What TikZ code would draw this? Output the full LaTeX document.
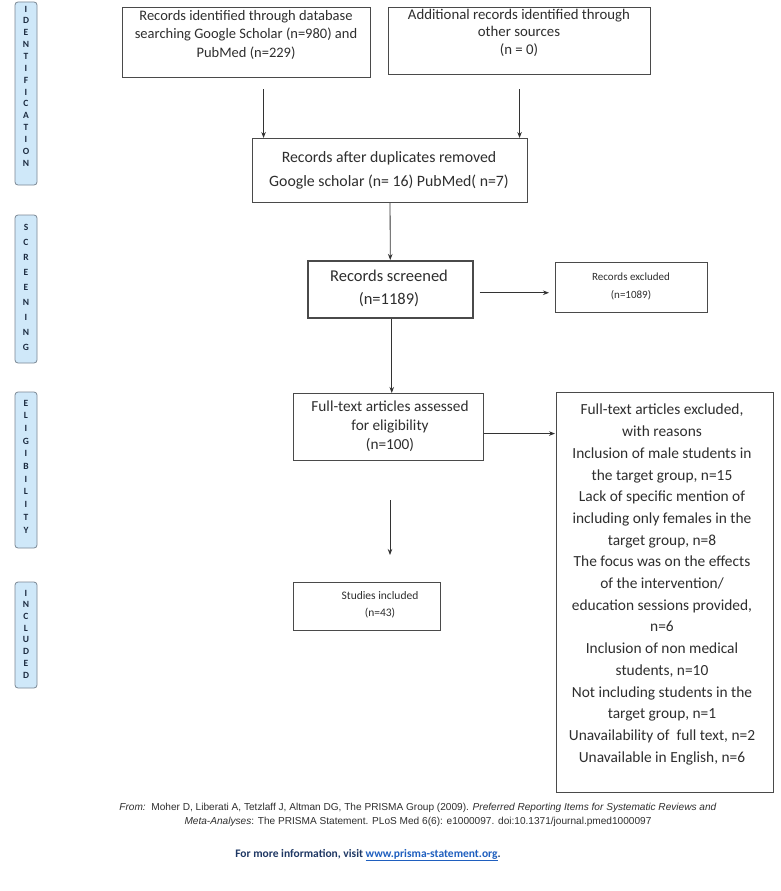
\documentclass[tikz,border=0pt]{standalone}
\usepackage{fontspec}
\setmainfont{Carlito}
\newfontfamily\arialf{Liberation Sans}
\usetikzlibrary{arrows.meta}
\definecolor{boxline}{HTML}{4A4A4A}
\definecolor{txt}{HTML}{2E2E2E}
\definecolor{barfill}{HTML}{CFE8F9}
\definecolor{barline}{HTML}{7A8794}
\definecolor{barletter}{HTML}{1C2B40}
\definecolor{navy}{HTML}{1F3864}
\definecolor{linkblue}{HTML}{1F5FBF}
\tikzset{
  frame/.style={draw=boxline, line width=1.1pt, inner sep=0pt, anchor=north west},
  boxtext/.style={text=txt, align=center, inner sep=0pt},
  bar/.style={draw=barline, fill=barfill, line width=0.8pt, rounded corners=3pt, minimum width=22pt, inner sep=0pt},
  barlab/.style={text=barletter, align=center, inner sep=0pt},
  arr/.style={draw=black!80, line width=0.8pt, -{Stealth[length=6pt,width=4.5pt]}}
}
\begin{document}
\begin{tikzpicture}[x=1pt,y=-1pt]
\fill[white] (0,0) rectangle (781,891);
\useasboundingbox (0,0) rectangle (781,891);

% side bars
\node[bar, minimum height=183pt] (bid) at (26,93.5) {};
\node[barlab, font=\bfseries\fontsize{9.5}{11.85}\selectfont] (lid) at (26,86) {I\\D\\E\\N\\T\\I\\F\\I\\C\\A\\T\\I\\O\\N};
\node[bar, minimum height=148pt] (bsc) at (26,289) {};
\node[barlab, font=\bfseries\fontsize{9.5}{14.9}\selectfont] (lsc) at (26,287.5) {S\\C\\R\\E\\E\\N\\I\\N\\G};
\node[bar, minimum height=156pt] (bel) at (26,470) {};
\node[barlab, font=\bfseries\fontsize{9.5}{12.7}\selectfont] (lel) at (26,466.5) {E\\L\\I\\G\\I\\B\\I\\L\\I\\T\\Y};
\node[bar, minimum height=106pt] (bin) at (26,635) {};
\node[barlab, font=\bfseries\fontsize{9.5}{11.7}\selectfont] (lin) at (26,634) {I\\N\\C\\L\\U\\D\\E\\D};

% boxes
\node[frame, minimum width=248pt, minimum height=70pt] (b1) at (122,7) {};
\node[boxtext, font=\fontsize{14.5}{18.5}\selectfont] (t1) at (246,34.7) {Records identified through database\\searching Google Scholar (n=980) and\\PubMed (n=229)};

\node[frame, minimum width=262pt, minimum height=67pt] (b2) at (388,7) {};
\node[boxtext, font=\fontsize{14.8}{17.5}\selectfont] (t2) at (519,32.5) {Additional records identified through\\other sources\\(n = 0)};

\node[frame, minimum width=275pt, minimum height=64pt] (b3) at (252,138) {};
\node[boxtext, font=\fontsize{15.8}{24}\selectfont] (t3) at (389,170) {Records after duplicates removed\\Google scholar (n= 16) PubMed( n=7)};

\node[frame, line width=1.5pt, minimum width=165pt, minimum height=57pt] (b4) at (307,260) {};
\node[boxtext, font=\fontsize{16.5}{23}\selectfont] (t4) at (389,288.5) {Records screened\\(n=1189)};

\node[frame, minimum width=152pt, minimum height=50pt] (b5) at (555,262) {};
\node[boxtext, font=\fontsize{11}{18}\selectfont] (t5) at (631,286) {Records excluded\\(n=1089)};

\node[frame, minimum width=190pt, minimum height=67pt] (b6) at (293,393) {};
\node[boxtext, font=\fontsize{15.3}{19}\selectfont] (t6) at (390,426.5) {Full-text articles assessed\\for eligibility\\(n=100)};

\node[frame, minimum width=217pt, minimum height=400pt] (b7) at (556,392) {};
\node[boxtext, font=\fontsize{15.4}{21.7}\selectfont] (t7) at (662,584.5) {Full-text articles excluded,\\with reasons\\Inclusion of male students in\\the target group, n=15\\Lack of specific mention of\\including only females in the\\target group, n=8\\The focus was on the effects\\of the intervention/\\education sessions provided,\\n=6\\Inclusion of non medical\\students, n=10\\Not including students in the\\target group, n=1\\Unavailability of\ \ full text, n=2\\Unavailable in English, n=6};

\node[frame, minimum width=147pt, minimum height=48pt] (b8) at (293,582) {};
\node[boxtext, font=\fontsize{11.5}{16.5}\selectfont] (t8) at (380,605) {Studies included\\(n=43)};

% connectors
\draw[arr, shorten <=11pt] ([xshift=17pt]b1.south) -- ([xshift=17pt]b1.south |- b3.north);
\draw[arr, shorten <=14pt] (b2.south) -- (b2.south |- b3.north);
\draw[arr] (b3.south) -- (b4.north);
\draw[arr, shorten <=6pt, shorten >=6pt] ([yshift=-3.5pt]b4.east) -- ([yshift=-3.5pt]b4.east -| b5.west);
\draw[arr] ([xshift=1.5pt]b4.south) -- ([xshift=1.5pt]b4.south |- b6.north);
\draw[arr, shorten >=1pt] ([yshift=-6.5pt]b6.east) -- ([yshift=-6.5pt]b6.east -| b7.west);
\coordinate (fa1) at (390,500);
\coordinate (fa2) at (390,555);
\draw[arr] (fa1) -- (fa2);

% footer
\node[text=txt, align=center, inner sep=0pt, font=\arialf\fontsize{10.1}{13.8}\selectfont] (cite) at (418,815) {\textit{From:}\ \ Moher D, Liberati A, Tetzlaff J, Altman DG, The PRISMA Group (2009). \textit{Preferred Reporting Items for Systematic Reviews and}\\\textit{Meta-Analyses}: The PRISMA Statement. PLoS Med 6(6): e1000097. doi:10.1371/journal.pmed1000097};
\node[text=navy, inner sep=0pt, font=\bfseries\fontsize{11.5}{14}\selectfont] (info) at (368,855) {For more information, visit \textcolor{linkblue}{\underline{www.prisma-statement.org}}.};
\end{tikzpicture}
\end{document}
